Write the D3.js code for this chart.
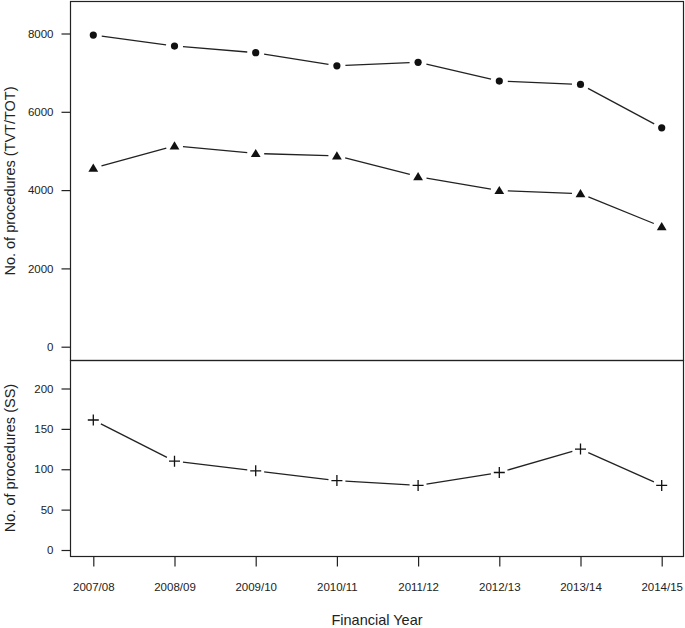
<!DOCTYPE html>
<html>
<head>
<meta charset="utf-8">
<script src="https://cdn.jsdelivr.net/npm/d3@7"></script>
<style>
html,body{margin:0;padding:0;background:#fff;}
svg{display:block;}
text{font-family:"Liberation Sans",Arial,Helvetica,sans-serif;fill:#222;}
</style>
</head>
<body>
<svg id="chart" width="685" height="628"></svg>
<script>
const years = ["2007/08","2008/09","2009/10","2010/11","2011/12","2012/13","2013/14","2014/15"];
const tvtCircle = [7960, 7680, 7510, 7175, 7265, 6785, 6700, 5590];
const tvtTriangle = [4560, 5130, 4935, 4875, 4345, 3990, 3910, 3065];
const ssValues = [161, 110, 98, 86, 80, 96, 125, 80];
const topTicks = [0, 2000, 4000, 6000, 8000];
const bottomTicks = [0, 50, 100, 150, 200];

const svg = d3.select("#chart");
const L = 70.5, R = 683.5;
const topT = 1.5, mid = 360.5, bot = 556.5;
const ink = "#222";

const x = d3.scalePoint().domain(years).range([93.3, 661.7]);
const yTop = d3.scaleLinear().domain([0, 8000]).range([346.7, 33.5]);
const yBot = d3.scaleLinear().domain([0, 200]).range([550, 388.5]);

// frames
svg.append("rect").attr("x", L).attr("y", topT).attr("width", R - L).attr("height", mid - topT)
  .attr("fill", "none").attr("stroke", ink).attr("stroke-width", 1.2);
svg.append("rect").attr("x", L).attr("y", mid).attr("width", R - L).attr("height", bot - mid)
  .attr("fill", "none").attr("stroke", ink).attr("stroke-width", 1.2);

function yAxis(scale, ticks) {
  const g = svg.append("g").attr("transform", `translate(${L},0)`)
    .call(d3.axisLeft(scale).tickValues(ticks).tickSize(9).tickPadding(8).tickFormat(d3.format("d")));
  g.select(".domain").remove();
  g.selectAll("line").attr("stroke", ink).attr("stroke-width", 1.2);
  g.selectAll("text").attr("font-size", 11.5).attr("fill", ink)
    .style("font-family", '"Liberation Sans",Arial,sans-serif');
}
yAxis(yTop, topTicks);
yAxis(yBot, bottomTicks);

const gx = svg.append("g").attr("transform", `translate(0,${bot})`)
  .call(d3.axisBottom(x).tickSize(10).tickPadding(16));
gx.select(".domain").remove();
gx.selectAll("line").attr("stroke", ink).attr("stroke-width", 1.2);
gx.selectAll("text").attr("font-size", 11.5).attr("fill", ink)
  .style("font-family", '"Liberation Sans",Arial,sans-serif');

// titles
svg.append("text").attr("transform", "translate(15,181) rotate(-90)")
  .attr("text-anchor", "middle").attr("font-size", 14.5).text("No. of procedures (TVT/TOT)");
svg.append("text").attr("transform", "translate(15,458) rotate(-90)")
  .attr("text-anchor", "middle").attr("font-size", 14.5).text("No. of procedures (SS)");
svg.append("text").attr("x", 377).attr("y", 625)
  .attr("text-anchor", "middle").attr("font-size", 14.5).text("Financial Year");

// type="b" lines with gaps
function gappedLine(values, yScale, gap) {
  const pts = values.map((v, i) => [x(years[i]), yScale(v)]);
  const segs = [];
  for (let i = 0; i < pts.length - 1; i++) {
    const [x1, y1] = pts[i], [x2, y2] = pts[i + 1];
    const dx = x2 - x1, dy = y2 - y1, len = Math.hypot(dx, dy);
    const ux = dx / len, uy = dy / len;
    segs.push([x1 + ux * gap, y1 + uy * gap, x2 - ux * gap, y2 - uy * gap]);
  }
  svg.append("g").selectAll("line").data(segs).join("line")
    .attr("x1", d => d[0]).attr("y1", d => d[1]).attr("x2", d => d[2]).attr("y2", d => d[3])
    .attr("stroke", ink).attr("stroke-width", 1.3);
  return pts;
}

const cPts = gappedLine(tvtCircle, yTop, 8.5);
svg.append("g").selectAll("circle").data(cPts).join("circle")
  .attr("cx", d => d[0]).attr("cy", d => d[1]).attr("r", 3.6).attr("fill", "#111");

const tPts = gappedLine(tvtTriangle, yTop, 8.5);
svg.append("g").selectAll("path").data(tPts).join("path")
  .attr("d", d => `M${d[0]},${d[1] - 4.6}L${d[0] + 4.9},${d[1] + 3.6}L${d[0] - 4.9},${d[1] + 3.6}Z`)
  .attr("fill", "#111");

const sPts = gappedLine(ssValues, yBot, 8.5);
svg.append("g").selectAll("path").data(sPts).join("path")
  .attr("d", d => `M${d[0] - 5.5},${d[1]}H${d[0] + 5.5}M${d[0]},${d[1] - 5.5}V${d[1] + 5.5}`)
  .attr("stroke", "#111").attr("stroke-width", 1.3).attr("fill", "none");
</script>
</body>
</html>
